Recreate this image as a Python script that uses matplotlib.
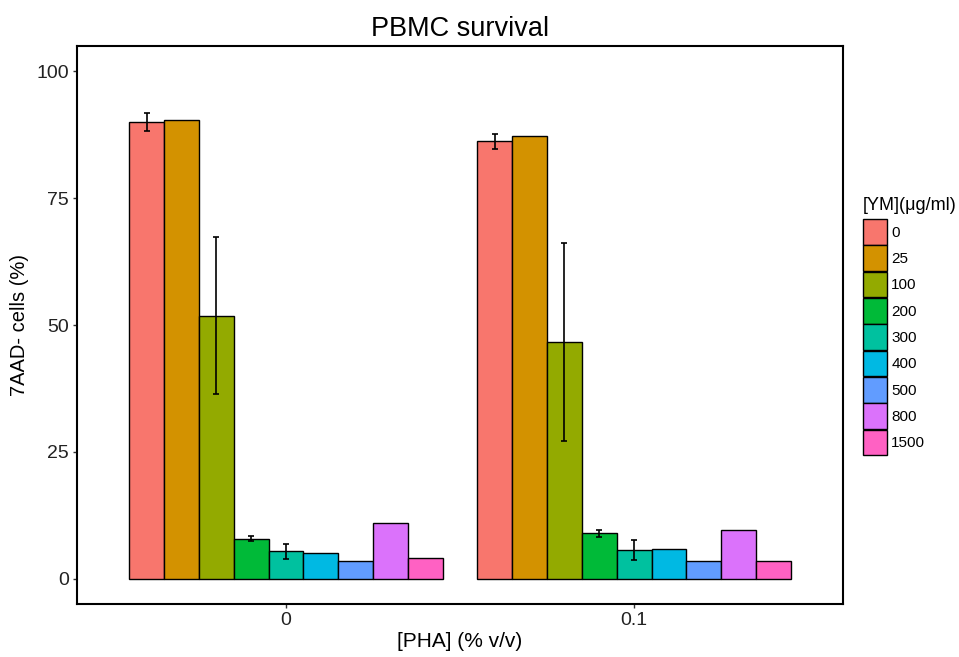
import numpy as np
import matplotlib
matplotlib.use("Agg")
import matplotlib.pyplot as plt
from matplotlib.patches import Patch

plt.rcParams['font.family'] = ['Liberation Sans', 'DejaVu Sans']

pha = ['0', '0.1']
ym = ['0', '25', '100', '200', '300', '400', '500', '800', '1500']
colors = ['#F8766D', '#D39200', '#93AA00', '#00BA38', '#00C19F',
          '#00B9E3', '#619CFF', '#DB72FB', '#FF61C3']

# mean values per YM dose, one list per PHA level
vals_0 = [90.0, 90.4, 51.8, 7.9, 5.4, 5.1, 3.5, 11.0, 4.1]
vals_01 = [86.2, 87.2, 46.7, 8.9, 5.7, 5.8, 3.5, 9.6, 3.5]
# error (half-length), 0 = no bar drawn
err_0 = [1.7, 0, 15.5, 0.45, 1.45, 0, 0, 0, 0]
err_01 = [1.55, 0, 19.5, 0.7, 2.0, 0, 0, 0, 0]

fig = plt.figure(figsize=(9.59, 6.57), dpi=100)
ax = fig.add_axes([77 / 959, 1 - 604 / 657, (843 - 77) / 959, (604 - 46) / 657])

n = len(ym)
w = 0.9 / n
xpos = np.arange(1, len(pha) + 1)
for i in range(n):
    x = xpos - 0.45 + w * (i + 0.5)
    h = [vals_0[i], vals_01[i]]
    e = [err_0[i], err_01[i]]
    ax.bar(x, h, width=w, color=colors[i], edgecolor='black', linewidth=1.0, zorder=2)
    for xi, hi, ei in zip(x, h, e):
        if ei > 0:
            ax.errorbar(xi, hi, yerr=ei, color='black', capsize=2.5,
                        elinewidth=1.2, capthick=1.2, zorder=3)

ax.set_xlim(0.4, 2.6)
ax.set_ylim(-5, 105)
ax.set_xticks(xpos)
ax.set_xticklabels(pha)
ax.set_yticks([0, 25, 50, 75, 100])
ax.tick_params(axis='both', direction='out', length=3, width=1, labelsize=14,
               colors='#333333', labelcolor='#222222', pad=3)
for s in ax.spines.values():
    s.set_linewidth(1.5)
    s.set_color('black')

ax.set_title('PBMC survival', fontsize=19.5, pad=7)
ax.set_xlabel('[PHA] (% v/v)', fontsize=15, labelpad=2)
ax.set_ylabel('7AAD- cells (%)', fontsize=14.5, labelpad=5)

# legend title drawn separately so the gap above the keys matches
fig.text(863 / 959, 1 - 205 / 657, '[YM](\u03bcg/ml)', fontsize=13,
         ha='left', va='center')
handles = [Patch(facecolor=c, edgecolor='black', linewidth=1.0) for c in colors]
fig.legend(handles, ym, loc='upper left',
           bbox_to_anchor=(863 / 959, 1 - 219 / 657), frameon=False, borderpad=0,
           borderaxespad=0, fontsize=11, handlelength=1.55, handleheight=2.2,
           handletextpad=0.3, labelspacing=0.05)

fig.savefig('out.png', dpi=100)
